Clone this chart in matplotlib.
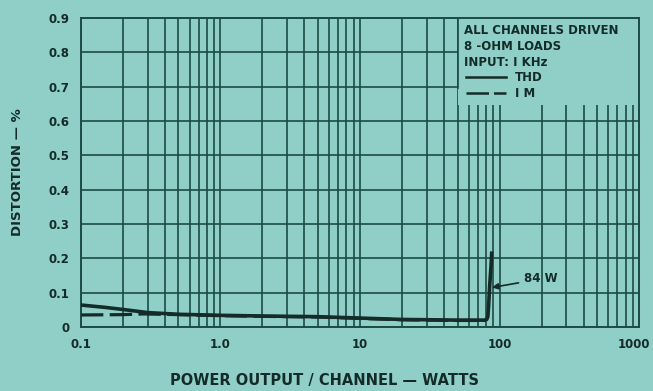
import matplotlib.pyplot as plt
import matplotlib.transforms as mtransforms
from matplotlib.patches import Rectangle
from matplotlib.lines import Line2D

# THD curve (watts, percent)
thd_watts = [0.1, 0.15, 0.2, 0.3, 0.5, 1.0, 2.0, 5.0, 10, 20, 50, 78, 81, 82.5, 83.5, 85, 87, 88]
thd_pct = [0.064, 0.057, 0.051, 0.042, 0.037, 0.034, 0.032, 0.030, 0.026, 0.022, 0.020,
           0.020, 0.022, 0.030, 0.060, 0.120, 0.180, 0.220]

# IM curve (watts, percent)
im_watts = [0.1, 0.2, 0.28, 0.5, 1.0, 2.0, 5.0, 10, 20, 50, 80]
im_pct = [0.035, 0.036, 0.038, 0.036, 0.033, 0.031, 0.029, 0.025, 0.021, 0.019, 0.019]

x_ticks = [0.1, 1, 10, 100, 1000]
x_labels = ["0.1", "1.0", "10", "100", "1000"]
y_ticks = [0, 0.1, 0.2, 0.3, 0.4, 0.5, 0.6, 0.7, 0.8, 0.9]
y_labels = ["0", "0.1", "0.2", "0.3", "0.4", "0.5", "0.6", "0.7", "0.8", "0.9"]

clip_watts = 84
clip_pct = 0.115

notes = ["ALL CHANNELS DRIVEN", "8 -OHM LOADS", "INPUT: I KHz"]

bg = "#8fcfc8"
ink = "#1c4a45"
txt = "#142b29"

fig = plt.figure(figsize=(6.53, 3.91), dpi=100, facecolor=bg)
ax = fig.add_axes([0.124, 0.1637, 0.8546, 0.7903], facecolor=bg)

ax.set_xscale("log")
ax.set_xlim(0.1, 1000)
ax.set_ylim(0, 0.9)

ax.set_xticks(x_ticks)
ax.set_xticklabels(x_labels, fontweight="bold")
ax.set_yticks(y_ticks)
ax.set_yticklabels(y_labels, fontweight="bold")
ax.tick_params(axis="both", which="both", length=0, labelsize=8.5, colors=txt)
ax.tick_params(axis="x", pad=8)
ax.tick_params(axis="y", pad=8)

# last x label sits flush with the right edge instead of hanging off it
last = ax.get_xticklabels()[-1]
last.set_horizontalalignment("right")
last.set_transform(last.get_transform() +
                   mtransforms.ScaledTranslation(0.11, 0, fig.dpi_scale_trans))

ax.grid(True, which="both", axis="x", color=ink, lw=1.2)
ax.grid(True, which="major", axis="y", color=ink, lw=1.2)
ax.set_axisbelow(True)
for s in ax.spines.values():
    s.set_color(ink)
    s.set_linewidth(1.4)

ax.plot(im_watts, im_pct, color=txt, lw=2.3, dashes=(7, 2), zorder=3)
ax.plot(thd_watts, thd_pct, color=txt, lw=2.6, solid_capstyle="butt", zorder=4)

ax.annotate("84 W", xy=(clip_watts * 1.05, clip_pct), xytext=(150, 0.14),
            fontsize=8.5, fontweight="bold", color=txt, va="center", ha="left",
            arrowprops=dict(arrowstyle="-|>", color=txt, lw=1.2, mutation_scale=9,
                            shrinkA=2, shrinkB=0), zorder=5)

# notes box in the upper right corner
ax.add_patch(Rectangle((0.6756, 0.718), 0.3244, 0.282, transform=ax.transAxes,
                       facecolor=bg, edgecolor="none", zorder=2.5))
ax.add_line(Line2D([0.6756, 0.6756], [0.773, 1.0], transform=ax.transAxes,
                   color=ink, lw=1.2, zorder=2.6))
for i, line in enumerate(notes):
    ax.text(0.686, 0.961 - i * 0.052, line, transform=ax.transAxes, fontsize=8.5,
            fontweight="bold", color=txt, va="center", ha="left", zorder=6)
ax.add_line(Line2D([0.690, 0.762], [0.809, 0.809], transform=ax.transAxes,
                   color=txt, lw=1.8, zorder=6))
ax.text(0.778, 0.809, "THD", transform=ax.transAxes, fontsize=8.5, fontweight="bold",
        color=txt, va="center", ha="left", zorder=6)
ax.add_line(Line2D([0.690, 0.762], [0.757, 0.757], transform=ax.transAxes,
                   color=txt, lw=1.8, dashes=(9, 2), zorder=6))
ax.text(0.778, 0.757, "I M", transform=ax.transAxes, fontsize=8.5, fontweight="bold",
        color=txt, va="center", ha="left", zorder=6)

ax.set_ylabel("DISTORTION — %", fontsize=9.5, fontweight="bold", color=txt, labelpad=18)
fig.text(325 / 653, 1 - 381 / 391, "POWER OUTPUT / CHANNEL — WATTS", fontsize=10.5,
         fontweight="bold", color=txt, ha="center", va="center")

fig.savefig("out.png", dpi=100, facecolor=bg)
